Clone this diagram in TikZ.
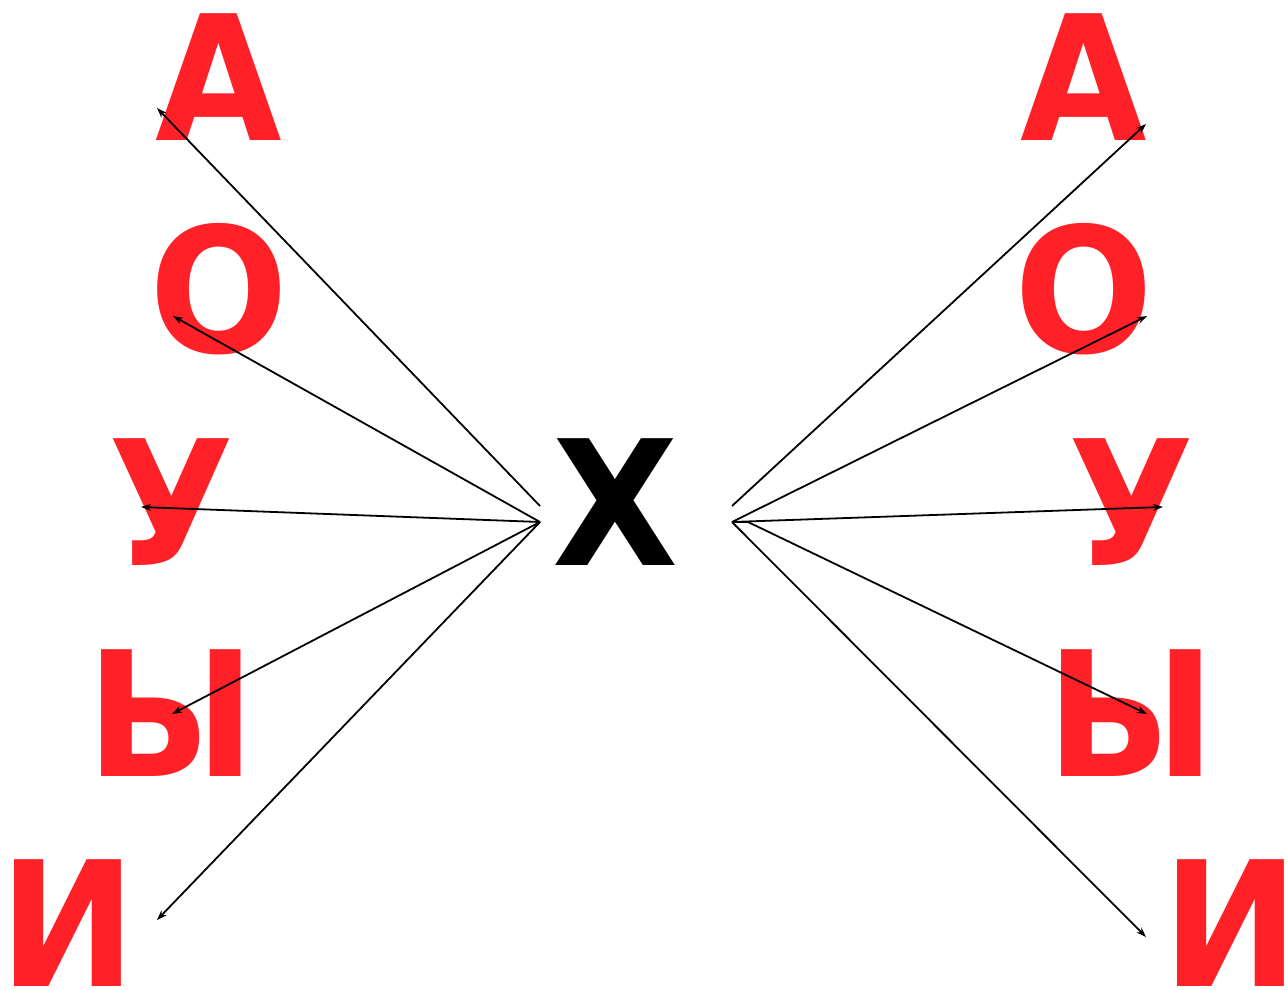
\documentclass[tikz,border=0pt]{standalone}
\usepackage{fontspec}
\setmainfont{DejaVu Sans}
\newfontfamily\letterfont{DejaVu Sans Bold}[FakeStretch=0.94]
\usetikzlibrary{arrows.meta}
\definecolor{vowelred}{RGB}{255,33,39}
\begin{document}
\begin{tikzpicture}[
    x=0.5pt, y=-0.5pt,
    vowel/.style={text=vowelred, font=\letterfont\fontsize{87}{87}\selectfont, inner sep=0pt, anchor=base},
    cons/.style={vowel, text=black},
    link/.style={-{Stealth[length=5pt, width=3.5pt]}, line width=0.9pt}
    ]
    \useasboundingbox (0,0) rectangle (1288,989);

    \node[vowel] (A1) at (219,141) {А};
    \node[vowel] (O1) at (219,352) {О};
    \node[vowel] (U1) at (172,565) {У};
    \node[vowel] (Y1) at (171,776) {Ы};
    \node[vowel] (I1) at (68,986) {И};
    \node[cons] (X) at (616,565) {Х};
    \node[vowel] (A2) at (1084,141) {А};
    \node[vowel] (O2) at (1084,352) {О};
    \node[vowel] (U2) at (1132,565) {У};
    \node[vowel] (Y2) at (1131,776) {Ы};
    \node[vowel] (I2) at (1231,986) {И};

    % hubs beside X
    \coordinate (HL) at (540,522);
    \coordinate (HLtop) at (540,506);
    \coordinate (HR) at (732,522);
    \coordinate (HRtop) at (732,506);
    \coordinate (HRy) at (748,522);

    % arrow tips on the letters
    \coordinate (tA1) at (157,108);
    \coordinate (tO1) at (173,316);
    \coordinate (tU1) at (141,507);
    \coordinate (tY1) at (172,714);
    \coordinate (tI1) at (157,920);
    \coordinate (tA2) at (1146,124);
    \coordinate (tO2) at (1147,316);
    \coordinate (tU2) at (1163,507);
    \coordinate (tY2) at (1147,714);
    \coordinate (tI2) at (1146,937);

    \draw[link] (HLtop) -- (tA1);
    \draw[link] (HL) -- (tO1);
    \draw[link] (HL) -- (tU1);
    \draw[link] (HL) -- (tY1);
    \draw[link] (HL) -- (tI1);
    \draw[link] (HRtop) -- (tA2);
    \draw[link] (HR) -- (tO2);
    \draw[link] (HR) -- (tU2);
    \draw[link] (HR) -- (HRy) -- (tY2);
    \draw[link] (HR) -- (tI2);

\end{tikzpicture}
\end{document}
